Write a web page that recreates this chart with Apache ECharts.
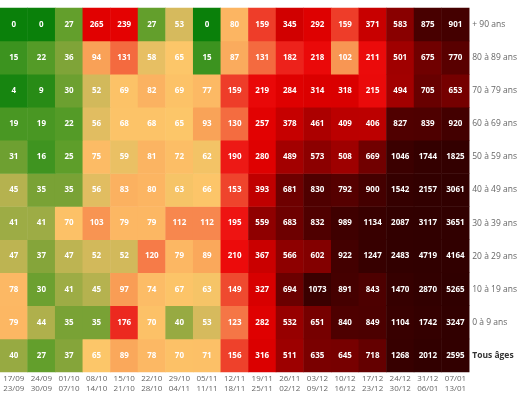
<!DOCTYPE html>
<html>
<head>
<meta charset="utf-8">
<script src="https://cdn.jsdelivr.net/npm/echarts@6/dist/echarts.min.js"></script>
<style>html,body{margin:0;padding:0;background:#fff;}#c{width:520px;height:399px;}</style>
</head>
<body>
<div id="c"></div>
<script>
var weeks = ["17/09\n23/09","24/09\n30/09","01/10\n07/10","08/10\n14/10","15/10\n21/10","22/10\n28/10","29/10\n04/11","05/11\n11/11","12/11\n18/11","19/11\n25/11","26/11\n02/12","03/12\n09/12","10/12\n16/12","17/12\n23/12","24/12\n30/12","31/12\n06/01","07/01\n13/01"];
var ageGroups = ["Tous âges","0 à 9 ans","10 à 19 ans","20 à 29 ans","30 à 39 ans","40 à 49 ans","50 à 59 ans","60 à 69 ans","70 à 79 ans","80 à 89 ans","+ 90 ans"];
var rowTous  = [40,27,37,65,89,78,70,71,156,316,511,635,645,718,1268,2012,2595];
var row0_9   = [79,44,35,35,176,70,40,53,123,282,532,651,840,849,1104,1742,3247];
var row10_19 = [78,30,41,45,97,74,67,63,149,327,694,1073,891,843,1470,2870,5265];
var row20_29 = [47,37,47,52,52,120,79,89,210,367,566,602,922,1247,2483,4719,4164];
var row30_39 = [41,41,70,103,79,79,112,112,195,559,683,832,989,1134,2087,3117,3651];
var row40_49 = [45,35,35,56,83,80,63,66,153,393,681,830,792,900,1542,2157,3061];
var row50_59 = [31,16,25,75,59,81,72,62,190,280,489,573,508,669,1046,1744,1825];
var row60_69 = [19,19,22,56,68,68,65,93,130,257,378,461,409,406,827,839,920];
var row70_79 = [4,9,30,52,69,82,69,77,159,219,284,314,318,215,494,705,653];
var row80_89 = [15,22,36,94,131,58,65,15,87,131,182,218,102,211,501,675,770];
var row90    = [0,0,27,265,239,27,53,0,80,159,345,292,159,371,583,875,901];
var rows = [rowTous,row0_9,row10_19,row20_29,row30_39,row40_49,row50_59,row60_69,row70_79,row80_89,row90];

var stops = [
  [0,[10,128,10]],[16,[63,148,32]],[25,[94,158,42]],[35,[121,162,53]],[45,[181,178,79]],
  [55,[222,188,96]],[65,[252,198,105]],[78,[252,184,100]],[95,[249,160,86]],[115,[247,130,76]],
  [130,[244,108,64]],[150,[239,72,46]],[175,[236,42,32]],[200,[238,14,14]],[240,[228,2,2]],
  [320,[218,0,0]],[400,[190,0,0]],[500,[160,0,0]],[650,[118,0,0]],[750,[92,0,0]],
  [900,[68,0,0]],[1100,[56,0,0]],[2000,[50,0,0]],[6000,[48,0,0]]
];
function colorFor(v){
  for (var i=1;i<stops.length;i++){
    if (v<=stops[i][0]){
      var a=stops[i-1], b=stops[i], t=(v-a[0])/(b[0]-a[0]);
      var c=a[1].map(function(x,k){return Math.round(x+(b[1][k]-x)*t);});
      return 'rgb('+c.join(',')+')';
    }
  }
  return 'rgb(48,0,0)';
}

var data = [];
rows.forEach(function(r,yi){
  r.forEach(function(v,xi){
    data.push({value:[xi,yi,v], itemStyle:{color:colorFor(v)}});
  });
});

var chart = echarts.init(document.getElementById('c'), null, {renderer:'canvas'});
chart.setOption({
  animation:false,
  backgroundColor:'#fff',
  textStyle:{fontFamily:'Open Sans'},
  grid:{left:0, top:8, right:50, bottom:27},
  xAxis:{type:'category', data:weeks, axisLine:{show:false}, axisTick:{show:false}, splitLine:{show:false},
    axisLabel:{fontSize:8, color:'#666', lineHeight:9.5, margin:2, interval:0, fontFamily:'Open Sans'}},
  yAxis:{type:'category', data:ageGroups, position:'right', axisLine:{show:false}, axisTick:{show:false}, splitLine:{show:false},
    axisLabel:{fontSize:8.5, color:'#666', margin:3, fontFamily:'Open Sans',
      formatter:function(v){return v==='Tous âges' ? '{b|'+v+'}' : v;},
      rich:{b:{fontWeight:'bold', color:'#333', fontSize:8.5, fontFamily:'Open Sans'}}}},
  series:[{type:'heatmap', data:data,
    label:{show:true, color:'#fff', fontWeight:'bold', fontSize:8, fontFamily:'Open Sans',
      formatter:function(p){return p.value[2];}},
    itemStyle:{borderWidth:0}}]
});
</script>
</body>
</html>
